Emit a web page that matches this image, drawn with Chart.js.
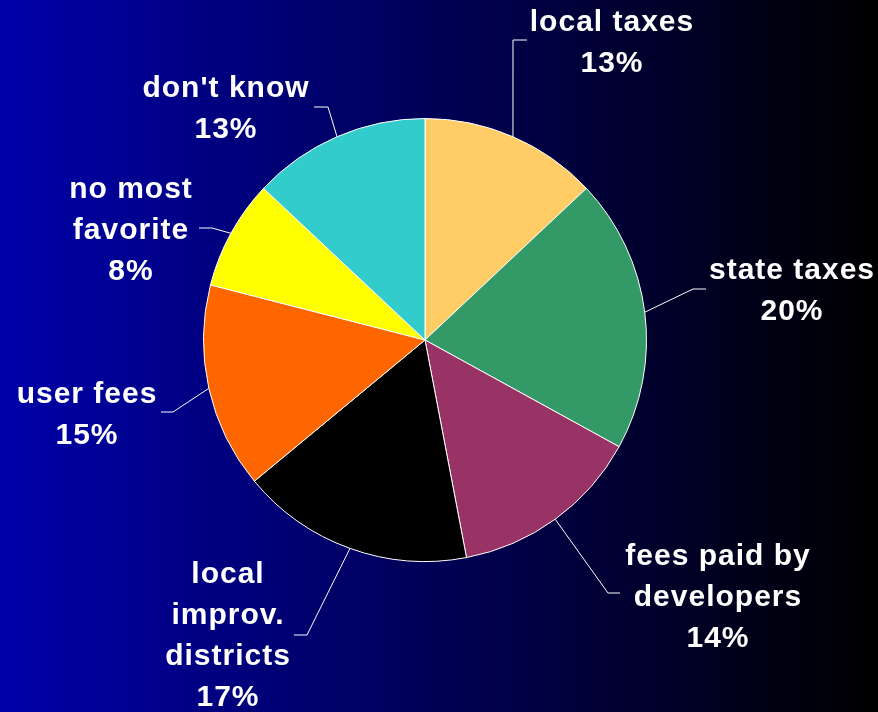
<!DOCTYPE html>
<html>
<head>
<meta charset="utf-8">
<script src="https://cdn.jsdelivr.net/npm/chart.js@4.4.1/dist/chart.umd.min.js"></script>
<style>
    html, body {
        margin: 0;
        padding: 0;
        overflow: hidden;
    }
    #wrap {
        width: 878px;
        height: 712px;
        background: linear-gradient(to right, #0000aa 0%, #000000 100%);
    }
</style>
</head>
<body>
<div id="wrap">
    <canvas id="pie-chart" width="878" height="712"></canvas>
</div>
<script>
const labels = [
    "local taxes",
    "state taxes",
    "fees paid by developers",
    "local improv. districts",
    "user fees",
    "no most favorite",
    "don't know",
];
const shares = [13, 20, 14, 17, 15, 8, 13];
const sliceColors = ["#FFCC66", "#339966", "#993366", "#000000", "#FF6600", "#FFFF00", "#33CCCC"];

// label text lines, where they sit, and the bend of each leader line
const labelLines = [
    ["local taxes"],
    ["state taxes"],
    ["fees paid by", "developers"],
    ["local", "improv.", "districts"],
    ["user fees"],
    ["no most", "favorite"],
    ["don't know"],
];
const labelPlace = [
    { x: 612, y: 31, bend: [513, 40], end: [527, 40] },
    { x: 792, y: 279, bend: [693, 289], end: [706, 289] },
    { x: 718, y: 565, bend: [608, 593], end: [620, 593] },
    { x: 228, y: 583, bend: [307, 635], end: [294, 635] },
    { x: 87, y: 403, bend: [173, 412], end: [161, 412] },
    { x: 131, y: 198, bend: [212, 228], end: [199, 228] },
    { x: 226, y: 97, bend: [328, 107], end: [314, 107] },
];

const lineHeight = 41;

const pieLabels = {
    id: "pieLabels",
    afterDatasetsDraw(chart) {
        const ctx = chart.ctx;
        const meta = chart.getDatasetMeta(0);
        ctx.save();
        meta.data.forEach((arc, i) => {
            const p = arc.getProps(["x", "y", "startAngle", "endAngle", "outerRadius"], true);
            const mid = (p.startAngle + p.endAngle) / 2;
            const sx = p.x + Math.cos(mid) * p.outerRadius;
            const sy = p.y + Math.sin(mid) * p.outerRadius;
            const place = labelPlace[i];

            ctx.strokeStyle = "#ffffff";
            ctx.lineWidth = 1;
            ctx.beginPath();
            ctx.moveTo(sx, sy);
            ctx.lineTo(place.bend[0], place.bend[1]);
            ctx.lineTo(place.end[0], place.end[1]);
            ctx.stroke();

            const lines = labelLines[i].concat([shares[i] + "%"]);
            ctx.fillStyle = "#ffffff";
            ctx.font = "bold 30px 'Liberation Sans', Arial, sans-serif";
            ctx.letterSpacing = "1px";
            ctx.textAlign = "center";
            ctx.textBaseline = "alphabetic";
            lines.forEach((t, k) => {
                ctx.fillText(t, place.x, place.y + k * lineHeight);
            });
        });
        ctx.restore();
    },
};

const pieChart = document.getElementById("pie-chart");
const config = {
    type: "pie",
    data: {
        labels: labels,
        datasets: [
            {
                data: shares,
                backgroundColor: sliceColors,
                borderColor: "#ffffff",
                borderWidth: 1,
            },
        ],
    },
    options: {
        responsive: false,
        animation: false,
        devicePixelRatio: 1,
        layout: {
            padding: {
                left: 203,
                right: 231,
                top: 118,
                bottom: 150,
            },
        },
        plugins: {
            legend: {
                display: false,
            },
            tooltip: {
                enabled: false,
            },
        },
    },
    plugins: [pieLabels],
};

window.addEventListener("DOMContentLoaded", () => {
    new Chart(pieChart, config);
});
</script>
</body>
</html>
